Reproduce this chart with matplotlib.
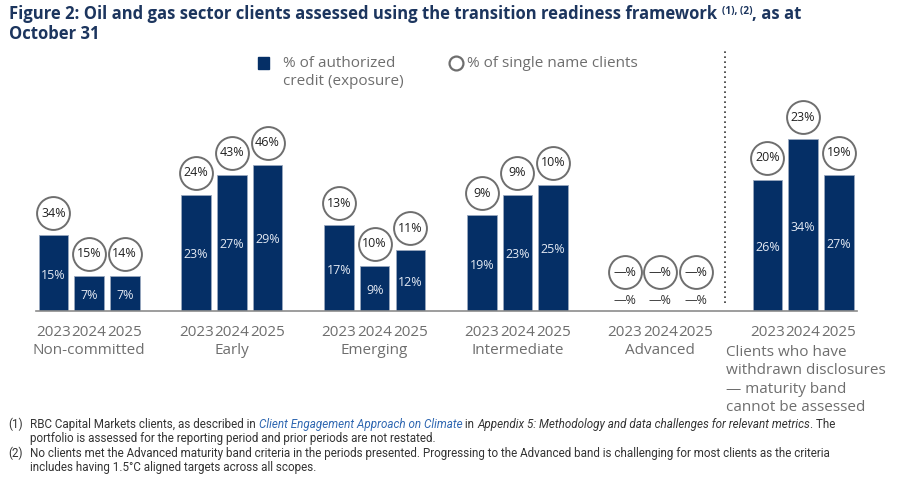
import numpy as np
import matplotlib
matplotlib.use('Agg')
import matplotlib.pyplot as plt
from matplotlib import font_manager
from matplotlib.patches import Rectangle
from matplotlib.lines import Line2D

# data
categories = ['Non-committed', 'Early', 'Emerging', 'Intermediate', 'Advanced',
              'Clients who have\nwithdrawn disclosures\n\u2014 maturity band\ncannot be assessed']
years = ['2023', '2024', '2025']
exposure = [[15, 7, 7], [23, 27, 29], [17, 9, 12], [19, 23, 25], [0, 0, 0], [26, 34, 27]]
single_name = [[34, 15, 14], [24, 43, 46], [13, 10, 11], [9, 9, 10], [0, 0, 0], [20, 23, 19]]
no_data = [False, False, False, False, True, False]

NAVY = '#052f66'
GREY = '#6e6e6e'
TITLE_C = '#1c355e'

names = {f.name for f in font_manager.fontManager.ttflist}
BODY = 'Open Sans' if 'Open Sans' in names else 'DejaVu Sans'
NARROW = 'Liberation Sans Narrow' if 'Liberation Sans Narrow' in names else 'Roboto'

W, H = 918, 484
fig = plt.figure(figsize=(W / 100, H / 100), dpi=100)
renderer = fig.canvas.get_renderer()

def fx(px):
    return px / W

def fy(py):
    return 1 - py / H

# axes placed so that 1 data unit in x = 35.7 px and 1 % = 5.05 px
PX_X = 35.7
PX_Y = 5.05
base_px = 311
left_px = 35.5
ax = fig.add_axes([fx(left_px), (H - base_px) / H, 23 * PX_X / W, 40 * PX_Y / H])
ax.set_xlim(-0.5, 22.5)
ax.set_ylim(0, 40)
for s in ['top', 'right', 'left']:
    ax.spines[s].set_visible(False)
ax.spines['bottom'].set_color('#8c8c8c')
ax.spines['bottom'].set_linewidth(1.2)
ax.set_xticks([])
ax.set_yticks([])

circ_off = 22 / PX_Y
for g, cat in enumerate(categories):
    xs = g * 4 + np.arange(3)
    if no_data[g]:
        for x in xs:
            ax.text(x, 10 / PX_Y, '\u2014%', ha='center', va='center', fontsize=9,
                    color='#333333', family=BODY)
            ax.scatter([x], [39 / PX_Y], s=560, facecolor='white', edgecolor=GREY,
                       linewidth=1.4, clip_on=False, zorder=3)
            ax.text(x, 39 / PX_Y, '\u2014%', ha='center', va='center', fontsize=9,
                    color='#222222', family=BODY, zorder=4)
    else:
        ax.bar(xs, exposure[g], width=0.83, color=NAVY, edgecolor='#9aa8bf', linewidth=0.6)
        for x, e, c in zip(xs, exposure[g], single_name[g]):
            ax.text(x, e / 2 - 0.4, f'{e}%', ha='center', va='center', fontsize=9,
                    color='#e3e9f3', family=BODY)
            ax.scatter([x], [e + circ_off], s=560, facecolor='white', edgecolor=GREY,
                       linewidth=1.4, clip_on=False, zorder=3)
            ax.text(x, e + circ_off, f'{c}%', ha='center', va='center', fontsize=9,
                    color='#222222', family=BODY, zorder=4)
    for x, yr in zip(xs, years):
        ax.text(x, -21 / PX_Y, yr, ha='center', va='center', fontsize=11,
                color=GREY, family=BODY, clip_on=False)
    if '\n' in cat:
        ax.text(18.84, -34 / PX_Y, cat, ha='left', va='top', fontsize=11,
                color=GREY, family=BODY, linespacing=1.3, clip_on=False)
    else:
        ax.text(g * 4 + 1, -39 / PX_Y, cat, ha='center', va='center', fontsize=11,
                color=GREY, family=BODY, clip_on=False)

# dotted separator
ax.plot([18.81, 18.81], [1.6, (base_px - 50) / PX_Y], ls=(0, (1, 2)), color='#333333',
        lw=1.2, clip_on=False)

# legend
fig.add_artist(Rectangle((fx(258), fy(69)), 11 / W, 12 / H, transform=fig.transFigure,
                         color=NAVY))
fig.text(fx(283), fy(56), '% of authorized\ncredit (exposure)', ha='left', va='top',
         fontsize=11, color=GREY, family=BODY, linespacing=1.3)
fig.add_artist(Line2D([fx(456)], [fy(63)], marker='o', markersize=10, mfc='white',
                      mec=GREY, mew=1.6, transform=fig.transFigure))
fig.text(fx(467), fy(63), '% of single name clients', ha='left', va='center',
         fontsize=11, color=GREY, family=BODY)


def chain(parts, x_px, y_px, size, family, color, weight='normal'):
    x = x_px
    made = []
    for txt, kw in parts:
        k = dict(fontsize=size, family=family, color=color, fontweight=weight)
        k.update(kw)
        rise = k.pop('rise', 0)
        if 'scale' in k:
            k['fontsize'] = size * k.pop('scale')
        t = fig.text(fx(x), fy(y_px - rise), txt, ha='left', va='baseline', **k)
        made.append(t)
        x += t.get_window_extent(renderer).width
    return x, made

# title, sized to span the same width as the reference
title_parts = [('Figure 2: Oil and gas sector clients assessed using the transition readiness framework ', {}),
               ('(1), (2)', dict(scale=0.6, rise=5)),
               (', as at', {})]
tsize = 12.5
end, made = chain(title_parts, 9, 19, tsize, BODY, TITLE_C, 'bold')
for t in made:
    t.remove()
tsize = tsize * (800 - 9) / (end - 9)
chain(title_parts, 9, 19, tsize, BODY, TITLE_C, 'bold')
fig.text(fx(9), fy(39), 'October 31', ha='left', va='baseline', fontsize=tsize,
         fontweight='bold', family=BODY, color=TITLE_C)

# footnotes
FN = '#333333'
fn_parts = [('RBC Capital Markets clients, as described in ', {}),
            ('Client Engagement Approach on Climate', dict(style='italic', color='#2f67b1')),
            (' in ', {}),
            ('Appendix 5: Methodology and data challenges for relevant metrics', dict(style='italic')),
            ('. The', {})]
fsz = 8
end, made = chain(fn_parts, 30, 428, fsz, NARROW, FN)
for t in made:
    t.remove()
fsz = fsz * (838 - 30) / (end - 30)
chain(fn_parts, 30, 428, fsz, NARROW, FN)
fig.text(fx(8), fy(428), '(1)', fontsize=fsz, family=NARROW, color=FN, va='baseline')
fig.text(fx(30), fy(442), 'portfolio is assessed for the reporting period and prior periods are not restated.',
         fontsize=fsz, family=NARROW, color=FN, va='baseline')
fig.text(fx(8), fy(457), '(2)', fontsize=fsz, family=NARROW, color=FN, va='baseline')
fig.text(fx(30), fy(457), 'No clients met the Advanced maturity band criteria in the periods presented. '
         'Progressing to the Advanced band is challenging for most clients as the criteria',
         fontsize=fsz, family=NARROW, color=FN, va='baseline')
fig.text(fx(30), fy(471), 'includes having 1.5\u00b0C aligned targets across all scopes.',
         fontsize=fsz, family=NARROW, color=FN, va='baseline')

fig.savefig('out.png', dpi=100)
